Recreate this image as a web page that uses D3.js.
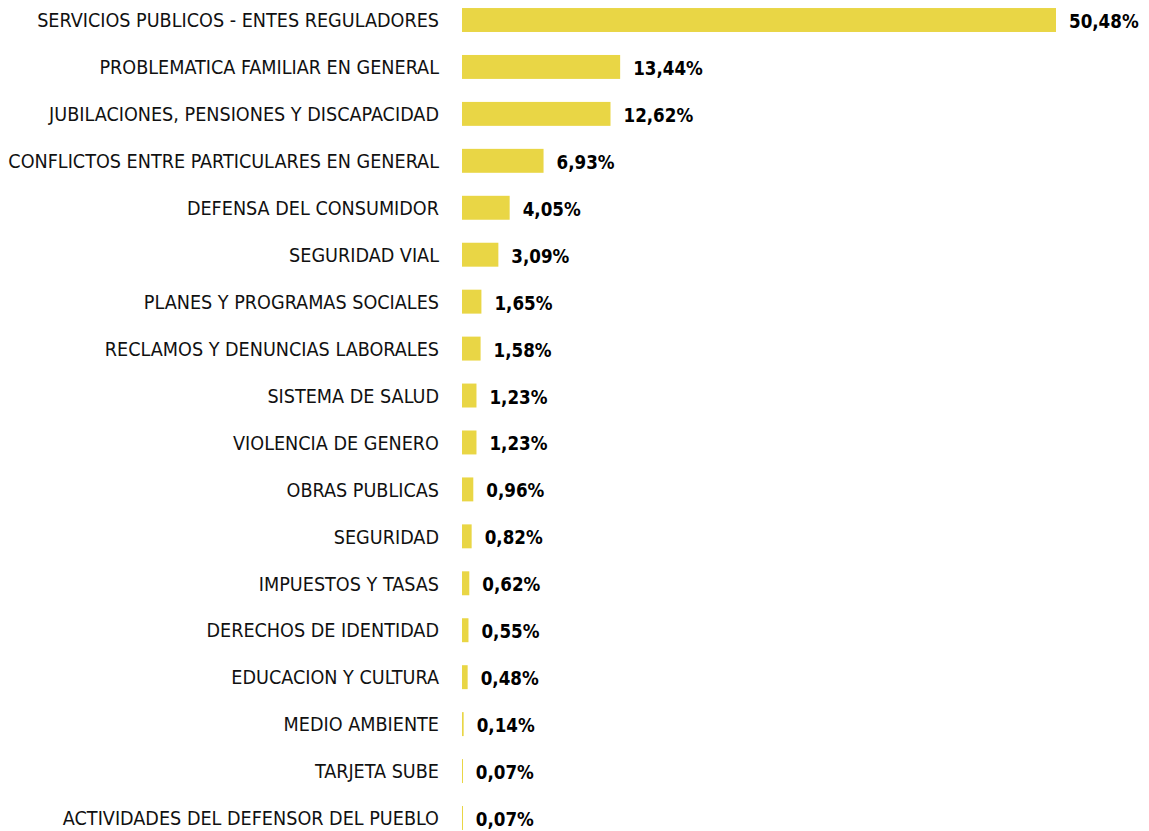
<!DOCTYPE html>
<html>
<head>
<meta charset="utf-8">
<script src="https://cdn.jsdelivr.net/npm/d3@7"></script>
<style>
  body { margin: 0; background: #fff; }
  svg text { font-family: "Liberation Sans Narrow", "DejaVu Sans Condensed", sans-serif; }
</style>
</head>
<body>
<svg id="chart" width="1149" height="831"></svg>
<script>
// Data
const categories = [
    "SERVICIOS PUBLICOS - ENTES REGULADORES",
    "PROBLEMATICA FAMILIAR EN GENERAL",
    "JUBILACIONES, PENSIONES Y DISCAPACIDAD",
    "CONFLICTOS ENTRE PARTICULARES EN GENERAL",
    "DEFENSA DEL CONSUMIDOR",
    "SEGURIDAD VIAL",
    "PLANES Y PROGRAMAS SOCIALES",
    "RECLAMOS Y DENUNCIAS LABORALES",
    "SISTEMA DE SALUD",
    "VIOLENCIA DE GENERO",
    "OBRAS PUBLICAS",
    "SEGURIDAD",
    "IMPUESTOS Y TASAS",
    "DERECHOS DE IDENTIDAD",
    "EDUCACION Y CULTURA",
    "MEDIO AMBIENTE",
    "TARJETA SUBE",
    "ACTIVIDADES DEL DEFENSOR DEL PUEBLO"
];
const values = [50.48, 13.44, 12.62, 6.93, 4.05, 3.09, 1.65, 1.58, 1.23, 1.23, 0.96, 0.82, 0.62, 0.55, 0.48, 0.14, 0.07, 0.07];

const svg = d3.select("#chart");
const margin = { top: -3.7, left: 462, right: 93, bottom: -10.7 };
const width = +svg.attr("width");
const height = +svg.attr("height");

const x = d3.scaleLinear()
    .domain([0, 50.48])
    .range([margin.left, width - margin.right]);

const y = d3.scaleBand()
    .domain(categories)
    .range([margin.top, height - margin.bottom])
    .paddingInner(0.49)
    .paddingOuter(0.25);

const fmt = v => v.toFixed(2).replace(".", ",") + "%";

const rows = svg.selectAll("g.row")
    .data(categories.map((c, i) => ({ cat: c, val: values[i] })))
    .enter().append("g")
    .attr("class", "row");

rows.append("rect")
    .attr("x", x(0))
    .attr("y", d => y(d.cat))
    .attr("width", d => Math.max(1, x(d.val) - x(0)))
    .attr("height", y.bandwidth())
    .attr("fill", "#e9d645");

// category labels, squeezed a bit to look like the condensed font of the original
rows.append("text")
    .attr("transform", d => `translate(${margin.left - 23},${y(d.cat) + y.bandwidth() / 2}) scale(0.98,1)`)
    .attr("dy", "0.36em")
    .attr("text-anchor", "end")
    .attr("font-size", "20px")
    .attr("fill", "#111")
    .text(d => d.cat);

// value labels
rows.append("text")
    .attr("transform", d => `translate(${x(d.val) + 13},${y(d.cat) + y.bandwidth() / 2}) scale(0.93,1)`)
    .attr("dy", "0.4em")
    .attr("font-size", "20px")
    .attr("font-weight", "bold")
    .attr("fill", "#000")
    .text(d => fmt(d.val));
</script>
</body>
</html>
